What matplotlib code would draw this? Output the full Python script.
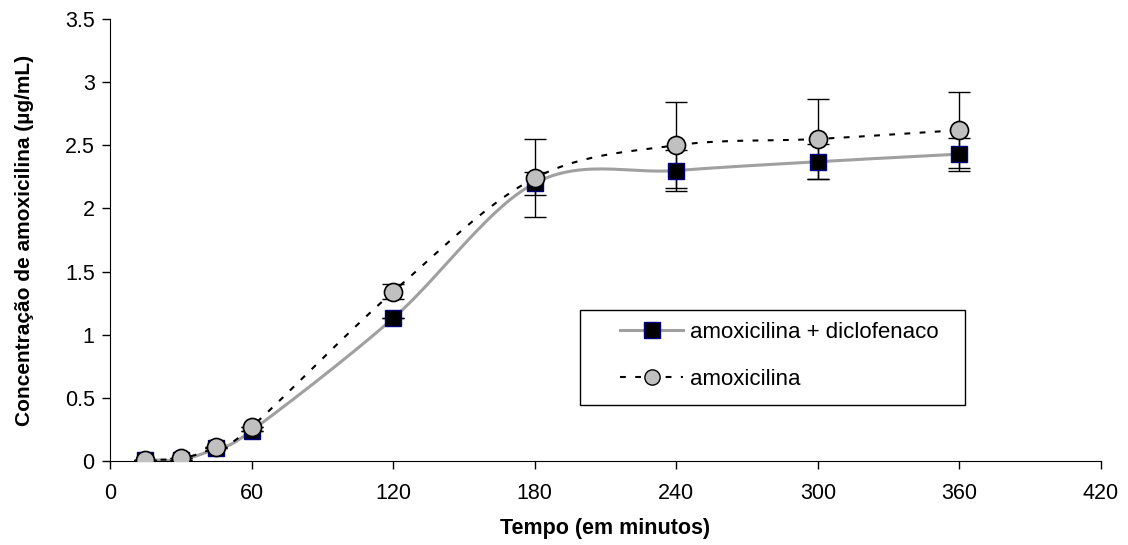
import numpy as np
import matplotlib.pyplot as plt
from matplotlib.lines import Line2D
from matplotlib.patches import Rectangle

plt.rcParams['font.family'] = ['Liberation Sans', 'DejaVu Sans']

# Tempo (min)
tempo = [15, 30, 45, 60, 120, 180, 240, 300, 360]
# amoxicilina + diclofenaco
conc_ad = [0.01, 0.01, 0.10, 0.24, 1.13, 2.20, 2.30, 2.37, 2.43]
dp_ad = [0.0, 0.0, 0.0, 0.0, 0.0, 0.09, 0.16, 0.14, 0.13]
# amoxicilina
conc_a = [0.01, 0.02, 0.11, 0.27, 1.34, 2.24, 2.50, 2.55, 2.62]
dp_a = [0.0, 0.0, 0.0, 0.0, 0.06, 0.31, 0.34, 0.32, 0.30]


def smooth(x, y, n=30):
    # Catmull-Rom curve like Excel's smoothed line
    x = np.asarray(x, float)
    y = np.asarray(y, float)
    px = np.concatenate([[2 * x[0] - x[1]], x, [2 * x[-1] - x[-2]]])
    py = np.concatenate([[2 * y[0] - y[1]], y, [2 * y[-1] - y[-2]]])
    xs, ys = [], []
    t = np.linspace(0, 1, n)
    for i in range(1, len(px) - 2):
        for p, out in ((px, xs), (py, ys)):
            p0, p1, p2, p3 = p[i - 1], p[i], p[i + 1], p[i + 2]
            out.extend(0.5 * ((2 * p1) + (-p0 + p2) * t
                              + (2 * p0 - 5 * p1 + 4 * p2 - p3) * t ** 2
                              + (-p0 + 3 * p1 - 3 * p2 + p3) * t ** 3))
    return np.array(xs), np.array(ys)


fig = plt.figure(figsize=(11.28, 5.45), dpi=100)
ax = fig.add_axes([110 / 1128, 84 / 545, 991 / 1128, 442 / 545])

gray_style = dict(color='#a0a0a0', lw=2.2)
dash_style = dict(color='black', lw=1.5, ls=(0, (2.8, 4.5)))

sx, sy = smooth(tempo, conc_ad)
ax.plot(sx, sy, zorder=2, **gray_style)
sx, sy = smooth(tempo, conc_a)
ax.plot(sx, sy, zorder=2, **dash_style)

ax.errorbar(tempo, conc_ad, yerr=dp_ad, fmt='none', ecolor='black',
            elinewidth=1, capsize=8, capthick=1, zorder=3)
ax.errorbar(tempo, conc_a, yerr=dp_a, fmt='none', ecolor='black',
            elinewidth=1, capsize=8, capthick=1, zorder=3)
ax.plot(tempo, conc_ad, ls='none', marker='s', ms=12, mfc='black',
        mec='#000080', mew=1, zorder=4)
ax.plot(tempo, conc_a, ls='none', marker='o', ms=13, mfc='#c0c0c0',
        mec='black', mew=1.2, zorder=5)

ax.set_xlim(0, 420)
ax.set_ylim(0, 3.5)
ax.set_xticks(range(0, 421, 60))
ax.set_yticks([0, 0.5, 1, 1.5, 2, 2.5, 3, 3.5])
ax.set_yticklabels(['0', '0.5', '1', '1.5', '2', '2.5', '3', '3.5'])
ax.spines['top'].set_visible(False)
ax.spines['right'].set_visible(False)
ax.tick_params(labelsize=15.5, length=6, width=1, direction='out')
ax.tick_params(axis='x', pad=10)
ax.tick_params(axis='y', pad=5)
ax.set_xlabel('Tempo (em minutos)', fontsize=15.5, fontweight='bold', labelpad=10)
ax.set_ylabel('Concentração de amoxicilina (µg/mL)', fontsize=15,
              fontweight='bold', labelpad=22)

# legend box
ax.add_patch(Rectangle((470 / 991, 56 / 442), 385 / 991, 95 / 442,
                       transform=ax.transAxes, fill=False, ec='black',
                       lw=1, zorder=6))
handles = [
    Line2D([], [], marker='s', ms=11, mfc='black', mec='#000080', **gray_style),
    Line2D([], [], marker='o', ms=11, mfc='#c0c0c0', mec='black', **dash_style),
]
leg = ax.legend(handles, ['amoxicilina + diclofenaco', 'amoxicilina'],
                loc='center left', bbox_to_anchor=(510 / 991, 105 / 442),
                fontsize=16, frameon=False, handlelength=2.85,
                labelspacing=1.15, borderpad=0, handletextpad=0.3,
                borderaxespad=0)

fig.savefig('out.png', dpi=100)
